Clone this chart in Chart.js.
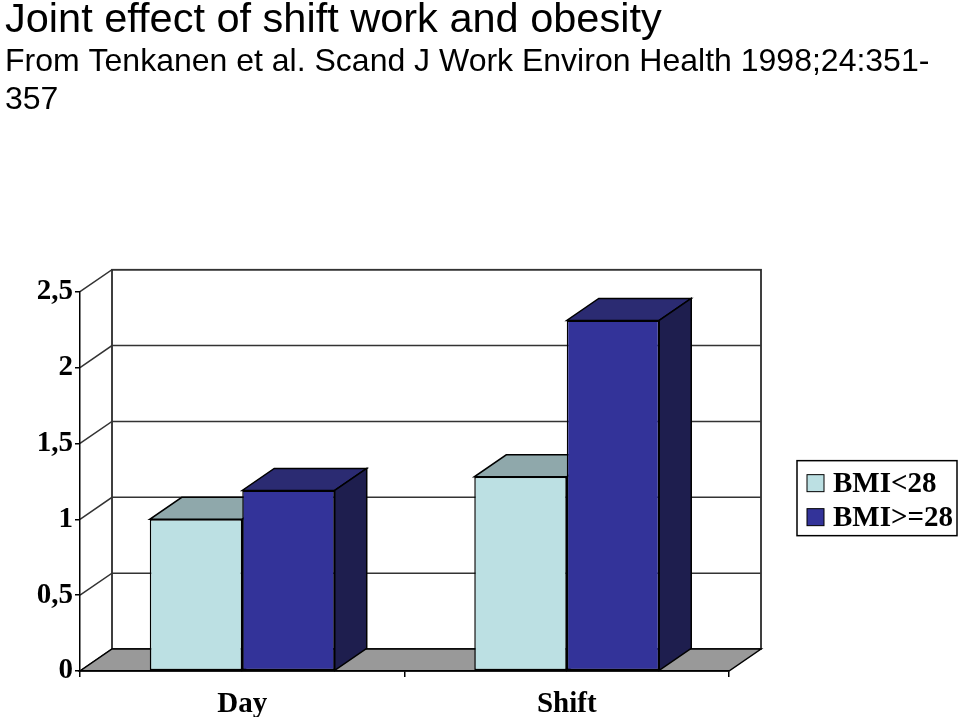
<!DOCTYPE html>
<html>
<head>
<meta charset="utf-8">
<script src="https://cdn.jsdelivr.net/npm/chart.js@4.4.1/dist/chart.umd.min.js"></script>
<style>
  html, body { margin: 0; padding: 0; background: #fff; }
  canvas { display: block; }
</style>
</head>
<body>
<canvas id="chartObesite" width="960" height="717"></canvas>
<script>
// données
var categories = ['Day', 'Shift'];
var nomsSeries = ['BMI<28', 'BMI>=28'];
var bmiBas = [1.0, 1.28];   // BMI<28
var bmiHaut = [1.19, 2.31]; // BMI>=28
var graduationsY = [0, 0.5, 1, 1.5, 2, 2.5];

var titre = 'Joint effect of shift work and obesity';
var sousTitre = ['From Tenkanen et al. Scand J Work Environ Health 1998;24:351-', '357'];

// couleurs : face avant, dessus, côté
var couleurs = [
  { face: '#BCE0E3', dessus: '#8FA8AB', cote: '#7C9497' },
  { face: '#333399', dessus: '#2B2B72', cote: '#1E1E4E' }
];
var profX = 32, profY = -22; // profondeur 3D
var policeAxes = { family: '"Liberation Serif"', size: 29, weight: 'bold' };

function polygone(ctx, pts, fond) {
  ctx.beginPath();
  ctx.moveTo(pts[0][0], pts[0][1]);
  for (var k = 1; k < pts.length; k++) ctx.lineTo(pts[k][0], pts[k][1]);
  ctx.closePath();
  if (fond) { ctx.fillStyle = fond; ctx.fill(); }
  ctx.stroke();
}

// murs, sol et grille en perspective
const pluginMurs = {
  id: 'murs',
  beforeDraw(chart) {
    const ctx = chart.ctx, a = chart.chartArea, y = chart.scales.y;
    ctx.save();
    ctx.lineWidth = 1.5;
    ctx.strokeStyle = '#000';
    ctx.strokeRect(a.left + profX, a.top + profY, a.right - a.left, a.bottom - a.top);
    ctx.strokeStyle = '#333';
    y.ticks.forEach(function (t) {
      const py = y.getPixelForValue(t.value);
      ctx.beginPath();
      ctx.moveTo(a.left, py);
      ctx.lineTo(a.left + profX, py + profY);
      ctx.lineTo(a.right + profX, py + profY);
      ctx.stroke();
    });
    ctx.strokeStyle = '#000';
    polygone(ctx, [[a.left, a.bottom], [a.right, a.bottom], [a.right + profX, a.bottom + profY], [a.left + profX, a.bottom + profY]], '#999999');
    ctx.restore();
  }
};

// dessus et côté des barres (la face avant est dessinée par Chart.js)
const pluginBarres3D = {
  id: 'barres3D',
  beforeDatasetsDraw(chart) {
    const ctx = chart.ctx;
    ctx.save();
    ctx.lineWidth = 1.5;
    ctx.strokeStyle = '#000';
    chart.data.datasets.forEach(function (ds, i) {
      chart.getDatasetMeta(i).data.forEach(function (barre) {
        const p = barre.getProps(['x', 'y', 'base', 'width'], true);
        const g = p.x - p.width / 2, d = p.x + p.width / 2;
        polygone(ctx, [[g, p.y], [d, p.y], [d + profX, p.y + profY], [g + profX, p.y + profY]], couleurs[i].dessus);
        polygone(ctx, [[d, p.y], [d + profX, p.y + profY], [d + profX, p.base + profY], [d, p.base]], couleurs[i].cote);
      });
    });
    ctx.restore();
  }
};

// légende encadrée à droite
const pluginLegende = {
  id: 'legendeEncadree',
  afterDraw(chart) {
    const ctx = chart.ctx, a = chart.chartArea;
    const bx = a.right + 68, by = a.top + 169, bw = 160, bh = 75;
    ctx.save();
    ctx.lineWidth = 1.5;
    ctx.strokeStyle = '#000';
    ctx.strokeRect(bx, by, bw, bh);
    ctx.font = 'bold 29px "Liberation Serif"';
    ctx.textBaseline = 'middle';
    chart.data.datasets.forEach(function (ds, i) {
      const cy = by + 22 + i * 34;
      ctx.fillStyle = ds.backgroundColor;
      ctx.fillRect(bx + 10, cy - 8, 17, 17);
      ctx.lineWidth = 1;
      ctx.strokeRect(bx + 10, cy - 8, 17, 17);
      ctx.fillStyle = '#000';
      ctx.fillText(ds.label, bx + 36, cy + 2);
    });
    ctx.restore();
  }
};

const elem = document.getElementById('chartObesite').getContext('2d');
new Chart(elem, {
  type: 'bar',
  data: {
    labels: categories,
    datasets: [
      { label: nomsSeries[0], data: bmiBas, backgroundColor: couleurs[0].face, borderColor: '#000', borderWidth: 1.5, borderSkipped: false },
      { label: nomsSeries[1], data: bmiHaut, backgroundColor: couleurs[1].face, borderColor: '#000', borderWidth: 1.5, borderSkipped: false }
    ]
  },
  options: {
    responsive: false,
    animation: false,
    devicePixelRatio: 1,
    categoryPercentage: 0.57,
    barPercentage: 1.0,
    layout: { padding: { left: 5, right: 0, top: 0, bottom: 0 } },
    plugins: {
      legend: { display: false },
      tooltip: { enabled: false },
      title: {
        display: true, text: titre, align: 'start', color: '#000',
        font: { family: '"Liberation Sans", Arial', size: 41.5, weight: 'normal', lineHeight: 1.0 },
        padding: { top: 0, bottom: 0 }
      },
      subtitle: {
        display: true, text: sousTitre, align: 'start', color: '#000',
        font: { family: '"Liberation Sans", Arial', size: 32, weight: 'normal', lineHeight: 1.19 },
        padding: { top: 2, bottom: 172 }
      }
    },
    scales: {
      x: {
        grid: { display: true, drawOnChartArea: false, drawTicks: true, tickLength: 6, color: '#000', lineWidth: 1.5, offset: true },
        border: { display: true, color: '#000', width: 1.5 },
        ticks: { color: '#000', padding: 10, font: policeAxes },
        afterFit: function (s) { s.height = 46; }
      },
      y: {
        min: 0, max: 2.5,
        afterBuildTicks: function (s) { s.ticks = graduationsY.map(function (v) { return { value: v }; }); },
        grid: { display: true, drawOnChartArea: false, drawTicks: true, tickLength: 5, color: '#000', lineWidth: 1.5 },
        border: { display: true, color: '#000', width: 1.5 },
        ticks: {
          color: '#000', padding: 2,
          font: policeAxes,
          callback: function (v) { return String(v).replace('.', ','); }
        },
        afterFit: function (s) { s.width = 75; }
      },
      marge: {
        type: 'linear', position: 'right', display: true,
        grid: { display: false }, ticks: { display: false }, border: { display: false },
        afterFit: function (s) { s.width = 231; }
      }
    }
  },
  plugins: [pluginMurs, pluginBarres3D, pluginLegende]
});
</script>
</body>
</html>
